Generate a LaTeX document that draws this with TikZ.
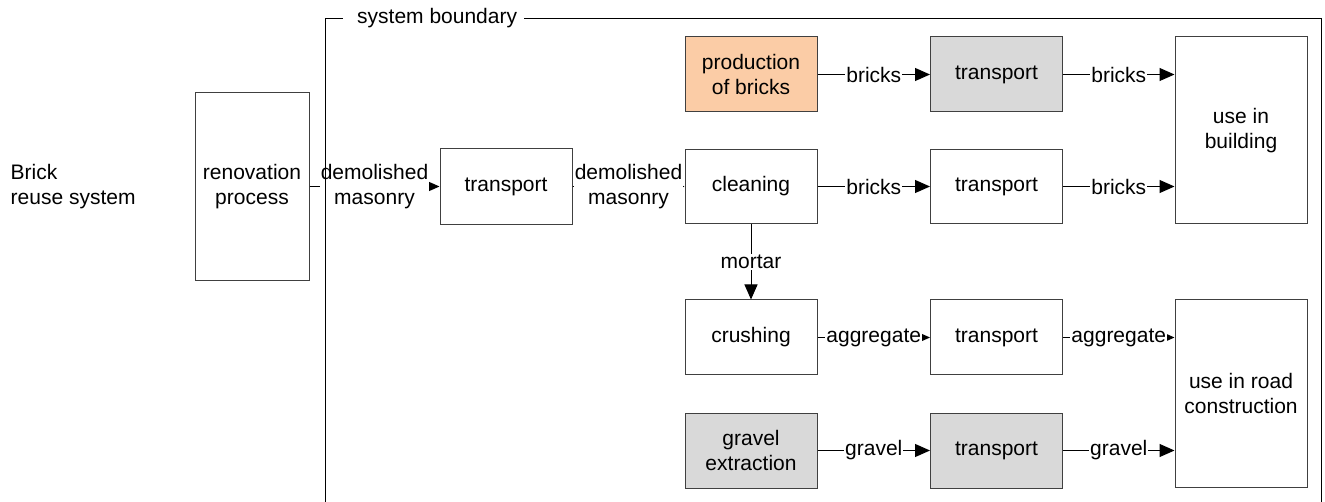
\documentclass[tikz,border=0pt]{standalone}
\usepackage{fontspec}
\setmainfont{Liberation Sans}
\usetikzlibrary{arrows.meta}
\newcommand\diafont{\fontsize{21}{25}\selectfont}
\definecolor{peach}{RGB}{251,204,166}
\definecolor{boxgray}{RGB}{217,217,217}
\begin{document}
\begin{tikzpicture}[x=1pt,y=-1pt,
  box/.style={draw=black!75, line width=1pt, minimum width=132pt, minimum height=75pt,
              align=center, inner sep=0pt, font=\diafont},
  flow/.style={line width=1pt, -{Triangle[length=15pt,width=13pt]}},
  lbl/.style={fill=white, inner sep=1pt, font=\diafont, align=center},
  bound/.style={line width=1pt, draw=black}]
\useasboundingbox (0,0) rectangle (1325,502);

\node[anchor=west, align=left, inner sep=0pt, font=\diafont] (title) at (10.5,186.5) {Brick\\reuse system};

\node[box, minimum width=114pt, minimum height=188pt] (ren) at (252,186.5) {renovation\\process};
\node[box, minimum height=76pt] (tr0) at (506,186.5) {transport};

\node[box, fill=peach] (prod) at (751,74.5) {production\\of bricks};
\node[box, fill=boxgray] (trA) at (996.5,74.5) {transport};
\node[box, minimum height=187pt] (bld) at (1241,130.5) {use in\\building};

\node[box, minimum height=74pt] (clean) at (751,186.5) {cleaning};
\node[box, minimum height=74pt] (trB) at (996.5,186.5) {transport};

\node[box] (crush) at (751,337.5) {crushing};
\node[box] (trC) at (996.5,337.5) {transport};
\node[box, minimum height=187pt] (road) at (1241,393.5) {use in road\\construction};

\node[box, fill=boxgray] (grav) at (751,450.5) {gravel\\extraction};
\node[box, fill=boxgray] (trD) at (996.5,450.5) {transport};

\draw[flow] (ren) -- node[lbl] {demolished\\masonry} (tr0);
\draw[flow] (tr0) -- node[lbl] {demolished\\masonry} (clean);

\draw[flow] (prod) -- node[lbl] {bricks} (trA);
\draw[flow] (trA) -- node[lbl] {bricks} (trA -| bld.west);
\draw[flow] (clean) -- node[lbl] {bricks} (trB);
\draw[flow] (trB) -- node[lbl] {bricks} (trB -| bld.west);

\draw[flow] (clean) -- node[lbl] {mortar} (crush);

\draw[flow] (crush) -- node[lbl] {aggregate} (trC);
\draw[flow] (trC) -- node[lbl] {aggregate} (trC -| road.west);
\draw[flow] (grav) -- node[lbl] {gravel} (trD);
\draw[flow] (trD) -- node[lbl] {gravel} (trD -| road.west);

\node[anchor=west, inner sep=0pt, font=\diafont] (sb) at (357,18.5) {system boundary};
\coordinate (bl) at (325.5,502);
\coordinate (tl) at (325.5,18.5);
\coordinate (tr) at (1321.5,18.5);
\coordinate (br) at (1321.5,502);
\draw[bound] (bl) -- (tl) -- ([xshift=-14pt]sb.west |- tl);
\draw[bound] ([xshift=7pt]sb.east |- tl) -- (tr) -- (br);
\end{tikzpicture}
\end{document}
